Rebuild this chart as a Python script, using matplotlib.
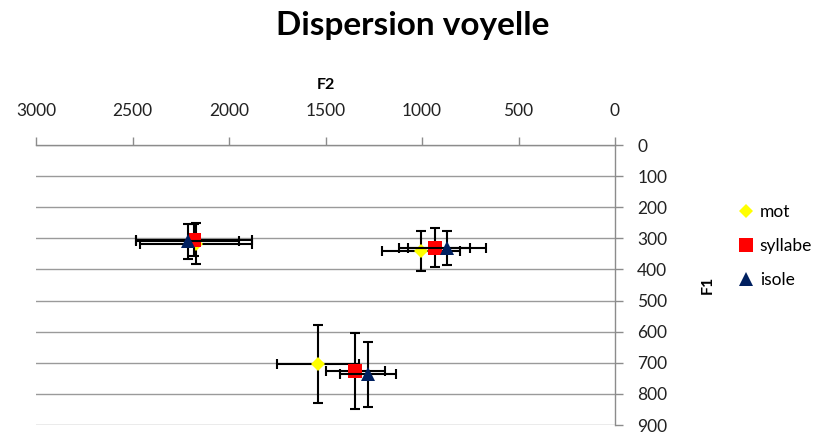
import matplotlib
matplotlib.use("Agg")
import matplotlib.pyplot as plt

plt.rcParams['font.family'] = ['Lato', 'DejaVu Sans']

# formant means (Hz) and standard deviations for each condition
series = ["mot", "syllabe", "isole"]
f2_mot = [2170, 1005, 1540]
f1_mot = [318, 340, 705]
f2_err_mot = [290, 200, 213]
f1_err_mot = [66, 64, 125]

f2_syllabe = [2180, 935, 1345]
f1_syllabe = [305, 330, 727]
f2_err_syllabe = [300, 182, 155]
f1_err_syllabe = [52, 63, 122]

f2_isole = [2215, 870, 1280]
f1_isole = [310, 332, 737]
f2_err_isole = [268, 203, 143]
f1_err_isole = [55, 54, 105]

x_ticks = [3000, 2500, 2000, 1500, 1000, 500, 0]
y_ticks = [0, 100, 200, 300, 400, 500, 600, 700, 800, 900]

fig = plt.figure(figsize=(8.16, 4.34), dpi=100)
ax = fig.add_axes([36 / 816, 1 - 425 / 434, (615 - 36) / 816, (425 - 145) / 434])

styles = [
    ("D", "#ffff00", 7.5),
    ("s", "#ff0000", 10),
    ("^", "#002060", 10),
]
data = [
    (f2_mot, f1_mot, f2_err_mot, f1_err_mot),
    (f2_syllabe, f1_syllabe, f2_err_syllabe, f1_err_syllabe),
    (f2_isole, f1_isole, f2_err_isole, f1_err_isole),
]

for i, (name, (f2, f1, ex, ey), (mk, col, ms)) in enumerate(zip(series, data, styles)):
    ax.errorbar(f2, f1, xerr=ex, yerr=ey, fmt="none", ecolor="black",
                elinewidth=1.5, capsize=3.5, capthick=1.5, zorder=3 + 2 * i)
    ax.plot(f2, f1, linestyle="none", marker=mk, color=col, markersize=ms,
            markeredgewidth=0, label=name, zorder=4 + 2 * i)

ax.set_xlim(3000, 0)
ax.set_ylim(900, 0)
ax.set_xticks(x_ticks)
ax.set_yticks(y_ticks)

ax.xaxis.set_ticks_position("top")
ax.xaxis.set_label_position("top")
ax.yaxis.set_ticks_position("right")
ax.yaxis.set_label_position("right")

for side in ("left", "bottom"):
    ax.spines[side].set_visible(False)
for side in ("top", "right"):
    ax.spines[side].set_color("#8c8c8c")
    ax.spines[side].set_linewidth(1)

ax.tick_params(axis="both", direction="out", length=6, width=1, color="#8c8c8c",
               labelsize=12.5, labelcolor="#222222")
ax.tick_params(axis="x", pad=13)
ax.tick_params(axis="y", pad=10)

ax.yaxis.grid(True, color="#9a9a9a", linewidth=1)
ax.set_axisbelow(True)

ax.set_xlabel("F2", fontsize=11.5, fontweight="bold", labelpad=10)
ax.set_ylabel("F1", fontsize=11.5, fontweight="bold", labelpad=24)

fig.text(413 / 816, 1 - 25 / 434, "Dispersion voyelle", ha="center", va="center",
         fontsize=24, fontweight="bold")

fig.legend(loc="center left", bbox_to_anchor=(732 / 816, 1 - 246 / 434),
           frameon=False, fontsize=12.5, handlelength=0.8, handletextpad=0.4,
           labelspacing=1.05, borderaxespad=0)

fig.savefig("out.png", dpi=100)
